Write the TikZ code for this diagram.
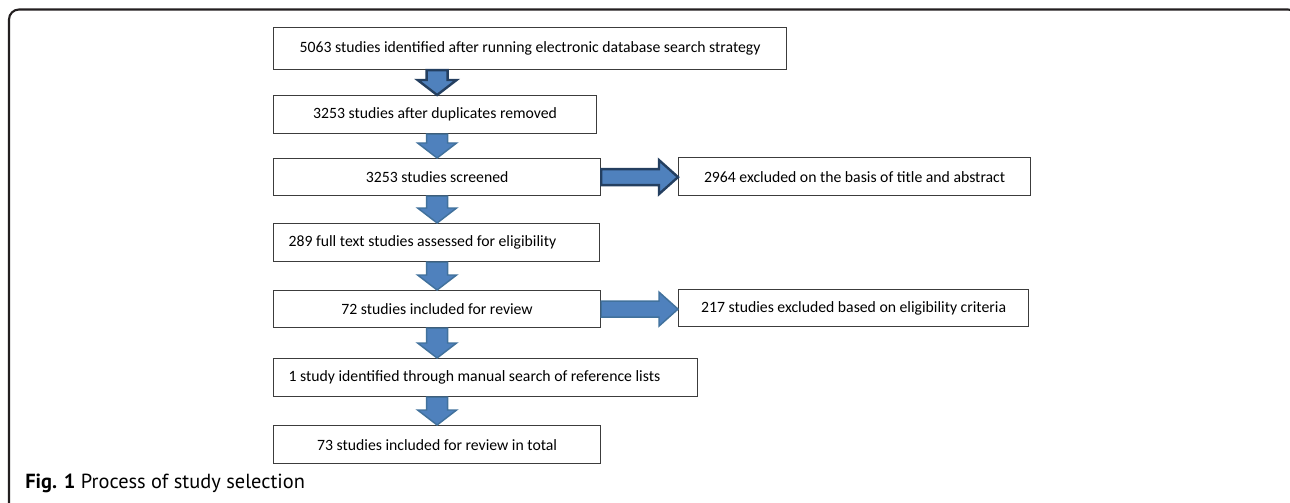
\documentclass[tikz,border=0pt]{standalone}
\usepackage{fontspec}
\setmainfont{Carlito}
\newfontfamily\capfont{PT Sans}
\usetikzlibrary{calc}

\definecolor{arrowfill}{RGB}{79,129,189}
\definecolor{arrowedge}{RGB}{65,113,156}
\definecolor{arrowdark}{RGB}{36,63,96}
\definecolor{boxedge}{RGB}{60,60,60}
\definecolor{framecol}{RGB}{35,31,32}

\tikzset{
  stagebox/.style={draw=boxedge, line width=0.9pt, fill=white, inner sep=0pt, anchor=north west, font=\fontsize{11.8}{14}\selectfont},
  leftbox/.style={stagebox, inner xsep=11.25pt, align=flush left},
  fatdown/.style={fill=arrowfill, draw=arrowedge, line width=1.1pt, line join=miter,
    to path={($(\tikztostart)+(-10.5,0)$) -- ($(\tikztostart)+(10.5,0)$) -- ($(\tikztotarget)+(10.5,-15)$) -- ($(\tikztotarget)+(19.5,-15)$) -- (\tikztotarget) -- ($(\tikztotarget)+(-19.5,-15)$) -- ($(\tikztotarget)+(-10.5,-15)$) -- cycle}},
  fatright/.style={fill=arrowfill, draw=arrowedge, line width=1.1pt, line join=miter,
    to path={($(\tikztostart)+(0,-8)$) -- ($(\tikztotarget)+(-19,-8)$) -- ($(\tikztotarget)+(-19,-17)$) -- (\tikztotarget) -- ($(\tikztotarget)+(-19,17)$) -- ($(\tikztotarget)+(-19,8)$) -- ($(\tikztostart)+(0,8)$) -- cycle}},
  darkedge/.style={draw=arrowdark, line width=1.8pt}
}

\begin{document}
\begin{tikzpicture}[x=0.75pt,y=0.75pt,yscale=-1,xscale=1]
\useasboundingbox (0,0) rectangle (1290,503);
\clip (0,0) rectangle (1290,503);

% Frame
\draw [framecol, line width=1.6pt, rounded corners=7.5pt] (9,520) -- (9,9.5) -- (1298,9.5) -- (1298,520);

% Boxes
\node [stagebox, minimum width=384.75pt, minimum height=31.5pt] (b1) at (273,27) {5063 studies identified after running electronic database search strategy};
\node [stagebox, minimum width=242.25pt, minimum height=28.5pt] (b2) at (273,95) {3253 studies after duplicates removed};
\node [stagebox, minimum width=245.25pt, minimum height=27.75pt] (b3) at (273,158) {3253 studies screened};
\node [stagebox, minimum width=264pt, minimum height=28.5pt] (b4) at (678,157) {2964 excluded on the basis of title and abstract};
\node [leftbox, text width=222pt, minimum height=28.5pt] (b5) at (273,223) {289 full text studies assessed for eligibility};
\node [stagebox, minimum width=245.25pt, minimum height=27.75pt] (b6) at (273,290) {72 studies included for review};
\node [stagebox, minimum width=262.5pt, minimum height=27.75pt] (b7) at (678,289) {217 studies excluded based on eligibility criteria};
\node [leftbox, text width=295.5pt, minimum height=28.5pt] (b8) at (273,358) {1 study identified through manual search of reference lists};
\node [stagebox, minimum width=245.25pt, minimum height=28.5pt] (b9) at (273,425) {73 studies included for review in total};

% Block arrows
\draw [fatdown, darkedge] (b1.south -| b3.south) to (b2.north -| b3.south);
\draw [fatdown] (b2.south -| b3.south) to (b3.north);
\draw [fatdown] (b3.south) to (b5.north -| b3.south);
\draw [fatdown] (b5.south -| b3.south) to (b6.north);
\draw [fatdown] (b6.south) to (b8.north -| b6.south);
\draw [fatdown] (b8.south -| b6.south) to (b9.north);
\draw [fatright, darkedge] (b3.east) to (b4.west |- b3.east);
\draw [fatright] (b6.east) to (b7.west |- b6.east);

% Caption
\node [anchor=base west, inner sep=0pt, font=\capfont\fontsize{15.3}{18}\selectfont] (cap) at (25,488) {\textbf{Fig. 1} Process of study selection};

\end{tikzpicture}
\end{document}
